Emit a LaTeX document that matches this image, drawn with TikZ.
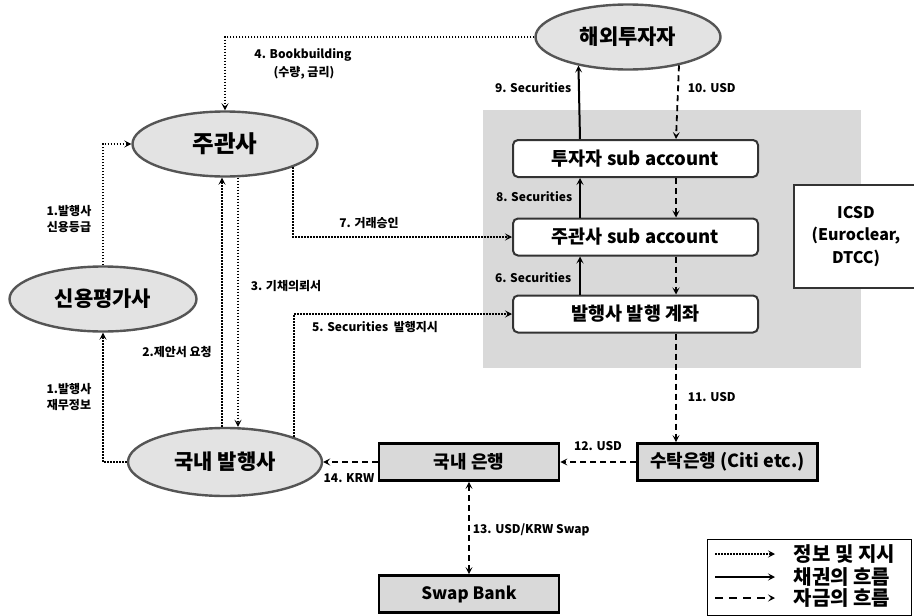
\documentclass[tikz,border=0pt]{standalone}
\usepackage{fontspec}
\setmainfont{Noto Sans CJK KR}
\usetikzlibrary{arrows.meta,shapes.geometric,calc}

\definecolor{ellfill}{HTML}{E3E3E3}
\definecolor{ellline}{HTML}{555555}
\definecolor{icsdgray}{HTML}{D9D9D9}
\definecolor{boxline}{HTML}{333333}

\begin{document}
\begin{tikzpicture}
[x=1pt, y=-1pt, line width=1.6pt, >={Stealth[length=7pt,width=7pt,inset=3pt]},
party/.style={ellipse, draw=ellline, line width=2.4pt, fill=ellfill, inner sep=0pt, minimum width=185pt, minimum height=65pt, font=\fontsize{21}{24}\selectfont\bfseries},
acct/.style={rectangle, rounded corners=5pt, draw=boxline, line width=2pt, fill=white, inner sep=0pt, minimum width=245pt, minimum height=37pt, font=\fontsize{18.5}{20}\selectfont\bfseries},
bank/.style={rectangle, draw=black, line width=2.8pt, fill=icsdgray, inner sep=0pt, minimum width=180pt, minimum height=37pt, font=\fontsize{18}{20}\selectfont\bfseries},
lbl/.style={inner sep=1pt, font=\fontsize{12}{16}\selectfont\bfseries},
legtext/.style={anchor=west, inner sep=0pt, font=\fontsize{20}{22}\selectfont\bfseries},
info/.style={dash pattern=on 1.6pt off 1.4pt, line width=2.2pt},
bond/.style={line width=2pt},
money/.style={dash pattern=on 6pt off 4pt, line width=1.8pt}]

\useasboundingbox (0,0) rectangle (914,616);

% ICSD area
\fill[icsdgray] (483,110) rectangle (861,368);

\node[party] (hwi) at (628,37) {해외투자자};
\node[party, font=\fontsize{23.5}{26}\selectfont\bfseries] (jgs) at (225,144) {주관사};
\node[party, minimum width=187pt] (sin) at (103,299) {신용평가사};
\node[party, minimum width=194pt, minimum height=68pt] (gnb) at (225,462) {국내 발행사};

\node[acct] (tsub) at (635.5,158.5) {투자자 sub account};
\node[acct] (jsub) at (635.5,237) {주관사 sub account};
\node[acct] (isub) at (635.5,314) {발행사 발행 계좌};

\node[rectangle, draw=boxline, line width=2pt, fill=white, minimum width=124pt, minimum height=103pt, align=center, font=\fontsize{16}{22.5}\selectfont\bfseries] (icsd) at (856,236.5) {ICSD\\(Euroclear,\\DTCC)};

\node[bank] (sutak) at (727.5,462) {수탁은행 (Citi etc.)};
\node[bank] (gbank) at (469,462) {국내 은행};
\node[bank, font=\fontsize{17}{20}\selectfont\bfseries] (swap) at (469,594) {Swap Bank};

% information
\draw[info,->] (hwi.west) -| (jgs.north);
\draw[info,->] (sin.north) |- (jgs.west);
\draw[info,->] (gnb.west) -| (sin.south);
\draw[info,->] ([xshift=-3pt]gnb.north) -- ([xshift=-3pt]jgs.south);
\draw[info,->] ([xshift=13pt]jgs.south) -- ([xshift=13pt]gnb.north);
\draw[info,->] (jgs.-19.5) |- (jsub.west);
\draw[info,->] (gnb.20.2) |- (isub.west);

% securities
\draw[bond,->] ([xshift=-55.5pt]tsub.north) -- (hwi.210.4);
\draw[bond,->] ([xshift=-55.5pt]jsub.north) -- ([xshift=-55.5pt]tsub.south);
\draw[bond,->] ([xshift=-55.5pt]isub.north) -- ([xshift=-55.5pt]jsub.south);

% money
\draw[money,->] (hwi.-29.6) -- ([xshift=40.5pt]tsub.north);
\draw[money,->] ([xshift=40.5pt]tsub.south) -- ([xshift=40.5pt]jsub.north);
\draw[money,->] ([xshift=40.5pt]jsub.south) -- ([xshift=40.5pt]isub.north);
\draw[money,->] ([xshift=40.5pt]isub.south) -- ([xshift=40.5pt]isub.south |- sutak.north);
\draw[money,->] (sutak.west) -- (gbank.east);
\draw[money,->] (gbank.west) -- (gnb.east);
\draw[money,<->] (gbank.south) -- (swap.north);

\node[lbl] (l4a) at (303,55) {4. Bookbuilding};
\node[lbl] (l4b) at (304,73) {(수량, 금리)};
\node[lbl, align=center] (l1a) at (69,219) {1.발행사\\신용등급};
\node[lbl, align=center] (l1b) at (69,397) {1.발행사\\재무정보};
\node[lbl] (l2) at (177,352) {2.제안서 요청};
\node[lbl] (l3) at (286,286) {3. 기채의뢰서};
\node[lbl] (l7) at (369,223) {7. 거래승인};
\node[lbl] (l5) at (375,327) {5. Securities\ \ 발행지시};
\node[lbl, anchor=east] (l9) at (573,88) {9. Securities};
\node[lbl, anchor=west] (l10) at (686,88) {10. USD};
\node[lbl, anchor=east] (l8) at (574,197) {8. Securities};
\node[lbl, anchor=east] (l6) at (573,278) {6. Securities};
\node[lbl, anchor=west] (l11) at (686,397) {11. USD};
\node[lbl] (l12) at (598,446) {12. USD};
\node[lbl] (l14) at (349,478) {14. KRW};
\node[lbl, anchor=west] (l13) at (471,530) {13. USD/KRW Swap};

% legend
\node[draw=black, line width=1pt, fill=white, minimum width=204pt, minimum height=76pt, inner sep=0pt] (legend) at (809,577) {};
\coordinate (lg1a) at (715,554);
\coordinate (lg1b) at (775,554);
\coordinate (lg2a) at (715,577);
\coordinate (lg2b) at (775,577);
\coordinate (lg3a) at (715,598);
\coordinate (lg3b) at (775,598);
\draw[info,->] (lg1a) -- (lg1b);
\draw[bond,->] (lg2a) -- (lg2b);
\draw[money,dash pattern=on 8pt off 6pt,->] (lg3a) -- (lg3b);
\node[legtext] (lt1) at (793,554) {정보 및 지시};
\node[legtext] (lt2) at (793,577) {채권의 흐름};
\node[legtext] (lt3) at (793,598) {자금의 흐름};
\end{tikzpicture}
\end{document}
